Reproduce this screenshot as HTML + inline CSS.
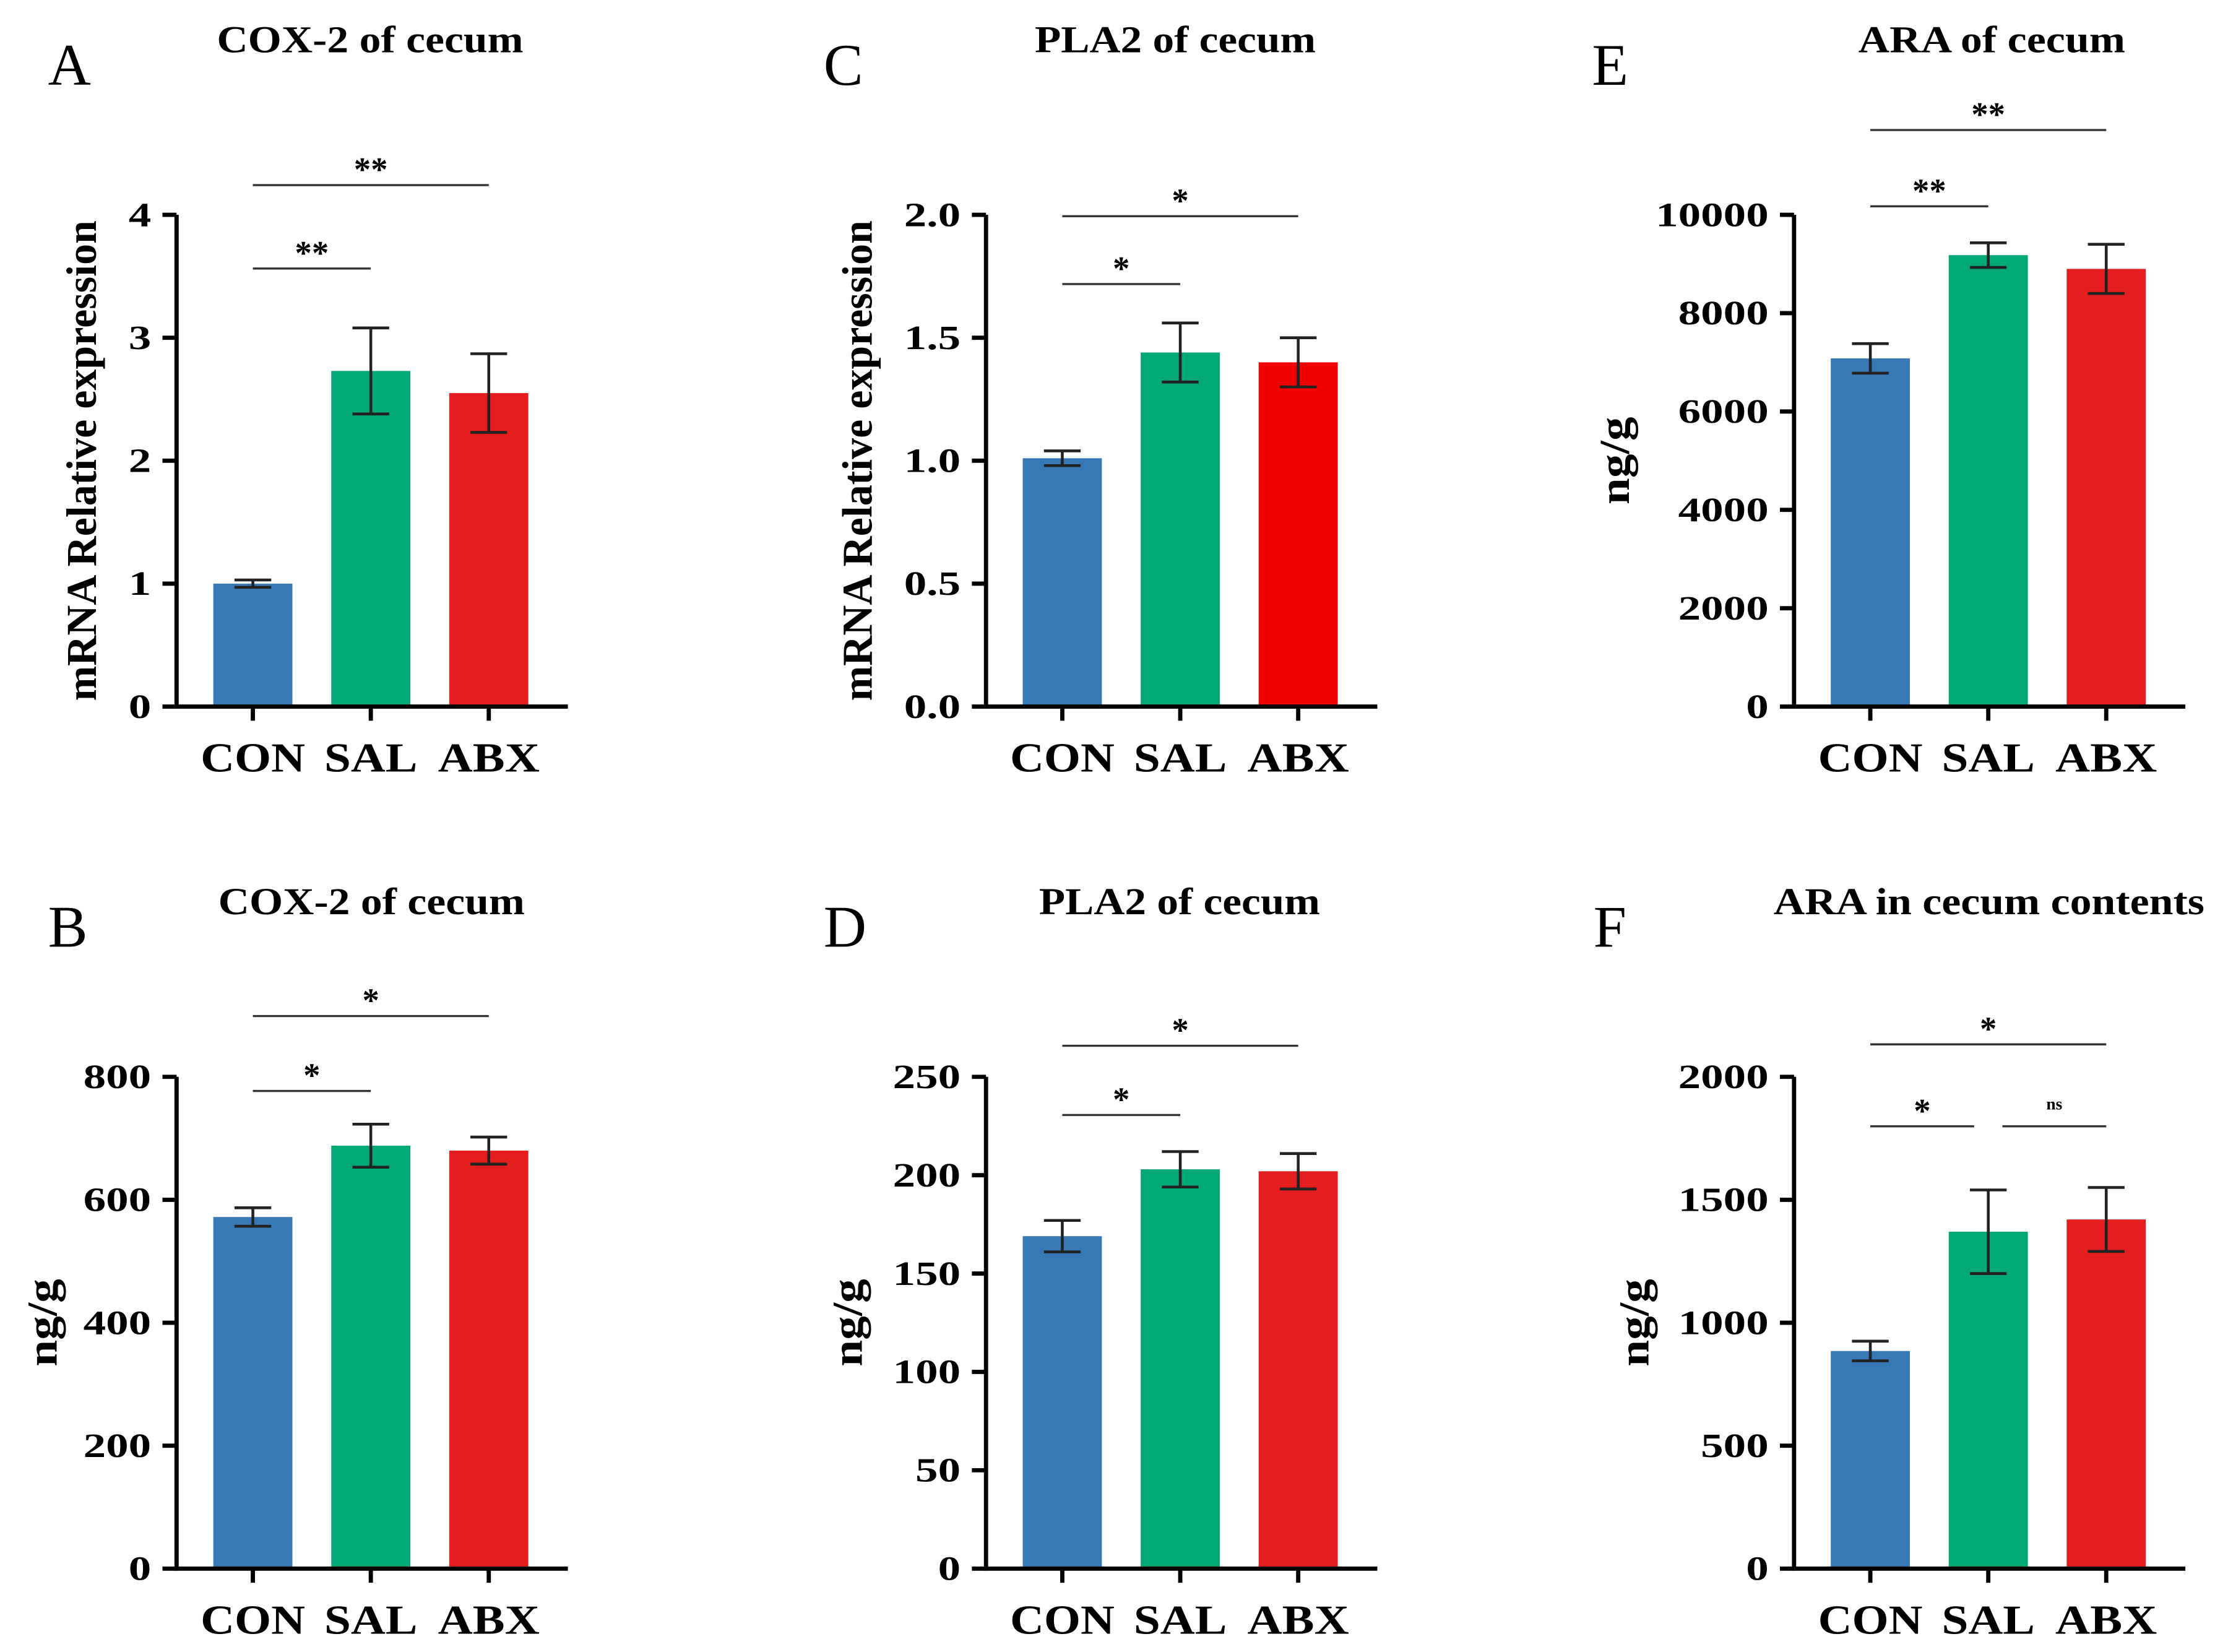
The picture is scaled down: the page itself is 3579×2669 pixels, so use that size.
<!DOCTYPE html>
<html><head><meta charset="utf-8"><style>
html,body{margin:0;padding:0;background:#fff;}
svg{display:block;}
text{font-family:"Liberation Serif",serif;}
</style></head><body>
<svg id="fig" width="3579" height="2669" viewBox="0 0 1568 1169" preserveAspectRatio="none" xmlns="http://www.w3.org/2000/svg"></svg>
<script>
const groups = ["CON","SAL","ABX"];
const colors = ["#3878b4","#03a877","#e41e1e"];
const valsA = [1.0, 2.73, 2.55], errA = [0.03, 0.35, 0.32];
const valsB = [572, 688, 680], errB = [15, 35, 22];
const valsC = [1.01, 1.44, 1.40], errC = [0.03, 0.12, 0.10];
const valsD = [169, 203, 202], errD = [8, 9, 9];
const valsE = [7080, 9180, 8900], errE = [300, 250, 500];
const valsF = [885, 1370, 1420], errF = [40, 170, 130];
const ticksA = [0,1,2,3,4], ticksB = [0,200,400,600,800];
const ticksC = ["0.0","0.5","1.0","1.5","2.0"], ticksD = [0,50,100,150,200,250];
const ticksE = [0,2000,4000,6000,8000,10000], ticksF = [0,500,1000,1500,2000];

const NS="http://www.w3.org/2000/svg";
const svg=document.getElementById('fig');
function mk(tag,attrs,parent,txt){const e=document.createElementNS(NS,tag);for(const k in attrs)e.setAttribute(k,attrs[k]);if(txt!==undefined)e.textContent=txt;(parent||svg).appendChild(e);return e;}
const xlLen=[74,66,72];
function tlen(s){let n=0;for(const c of String(s))n+=(c==='.'?8:16);return n;}

function panel(p){
  const g=mk('g',{});
  
  
  const x0=p.ax, y0=p.y0, yTop=p.y0-348, xEnd=p.ax+277;
  const ymax=+p.ticks[p.ticks.length-1];
  const Y=v=>y0-(v/ymax)*348;
  const bx=i=>p.ax+26+i*83.5;
  const l=mk('text',{x:p.lx,y:p.y0-440,'font-size':42},g,p.letter);
   
  const t=mk('text',{x:p.tc-p.tl/2,y:p.y0-463,'font-size':27,'font-weight':'bold',textLength:p.tl,lengthAdjust:'spacingAndGlyphs'},g,p.title);
   
  const ytl=p.ytitle.length>6?340:62;
  const yt=mk('text',{x:-ytl/2,y:0,'font-size':30,'font-weight':'bold',textLength:ytl,lengthAdjust:'spacingAndGlyphs',transform:`translate(${p.ytx},${y0-174}) rotate(-90)`},g,p.ytitle);
   
  p.vals.forEach((v,i)=>{
    const r=mk('rect',{x:bx(i),y:Y(v),width:56,height:y0-Y(v),fill:p.colors?p.colors[i]:colors[i]},g);
     
    const cx=bx(i)+28, hi=Y(v+p.err[i]), lo=Y(v-p.err[i]);
    const eb=mk('path',{d:`M${cx} ${hi}V${lo}M${cx-13} ${hi}H${cx+13}M${cx-13} ${lo}H${cx+13}`,stroke:'#222','stroke-width':2,fill:'none'},g);
     
    mk('line',{x1:cx,x2:cx,y1:y0,y2:y0+10,stroke:'#000','stroke-width':3},g);
    const xl=mk('text',{x:cx-xlLen[i]/2,y:y0+46,'font-size':29,'font-weight':'bold',textLength:xlLen[i],lengthAdjust:'spacingAndGlyphs'},g,groups[i]);
     
  });
  const ax=mk('path',{d:`M${x0} ${yTop}V${y0}H${xEnd}`,stroke:'#000','stroke-width':3,fill:'none'},g);
   
  p.ticks.forEach(tv=>{
    const yy=Y(+tv);
    mk('line',{x1:x0-10,x2:x0,y1:yy,y2:yy,stroke:'#000','stroke-width':3},g);
    const L=tlen(tv);
    const tl=mk('text',{x:x0-18-L,y:yy+8,'font-size':24,'font-weight':'bold',textLength:L,lengthAdjust:'spacingAndGlyphs'},g,String(tv));
     
  });
  p.sig.forEach(s=>{
    const a=bx(s[0])+28, b=bx(s[1])+28 + (s[3]||0), a2=a+(s[4]||0);
    const ln=mk('line',{x1:a2,x2:b,y1:s[2],y2:s[2],stroke:'#333','stroke-width':1.5},g);
     
    const st=mk('text',{x:(a2+b)/2,y:s[5]==='ns'?s[2]-12:s[2]-3,'font-size':s[5]==='ns'?12:24,'font-weight':'bold','text-anchor':'middle'},g,s[5]);
     
  });
}
panel({letter:'A',lx:34,tc:262,tl:217,title:'COX-2 of cecum',ax:125,y0:500,ticks:ticksA,vals:valsA,err:errA,ytitle:'mRNA Relative expression',ytx:68,
  sig:[[0,1,190,0,0,'**'],[0,2,131,0,0,'**']]});
panel({letter:'B',lx:34,tc:263,tl:217,title:'COX-2 of cecum',ax:125,y0:1110,ticks:ticksB,vals:valsB,err:errB,ytitle:'ng/g',ytx:40,
  sig:[[0,1,772,0,0,'*'],[0,2,719,0,0,'*']]});
panel({letter:'C',lx:583,tc:832,tl:199,title:'PLA2 of cecum',ax:698,y0:500,ticks:ticksC,vals:valsC,err:errC,ytitle:'mRNA Relative expression',ytx:617,colors:["#3878b4","#03a877","#f20000"],
  sig:[[0,1,201,0,0,'*'],[0,2,153,0,0,'*']]});
panel({letter:'D',lx:583,tc:835,tl:199,title:'PLA2 of cecum',ax:698,y0:1110,ticks:ticksD,vals:valsD,err:errD,ytitle:'ng/g',ytx:610,
  sig:[[0,1,789,0,0,'*'],[0,2,740,0,0,'*']]});
panel({letter:'E',lx:1127,tc:1410,tl:189,title:'ARA of cecum',ax:1270,y0:500,ticks:ticksE,vals:valsE,err:errE,ytitle:'ng/g',ytx:1153,
  sig:[[0,1,146,0,0,'**'],[0,2,92,0,0,'**']]});
panel({letter:'F',lx:1128,tc:1408,tl:305,title:'ARA in cecum contents',ax:1270,y0:1110,ticks:ticksF,vals:valsF,err:errF,ytitle:'ng/g',ytx:1167,
  sig:[[0,1,797,-10,0,'*'],[1,2,797,0,10,'ns'],[0,2,739,0,0,'*']]});
</script>
</body></html>
